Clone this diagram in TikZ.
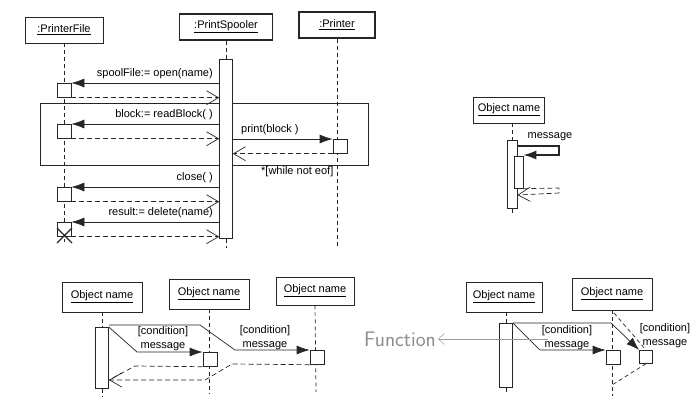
\documentclass[tikz,border=0pt]{standalone}
\usepackage{fontspec}
\setmainfont{Liberation Sans}
\usetikzlibrary{arrows.meta}

\tikzset{
  ink/.style={draw=black!85, line width=0.7pt},
  objbox/.style={ink, fill=white, minimum height=26pt, inner sep=2pt, font=\fontsize{11}{12}\selectfont},
  heavybox/.style={objbox, line width=1.8pt},
  actbar/.style={ink, fill=white, inner sep=0pt, minimum width=13pt},
  callbox/.style={ink, fill=white, inner sep=0pt, minimum size=14pt},
  lifeline/.style={draw=black!85, line width=0.7pt, dash pattern=on 4pt off 3pt},
  call/.style={ink, -{Latex[length=13pt,width=9pt]}},
  ret/.style={ink, dash pattern=on 5pt off 3pt, -{Straight Barb[length=12pt,width=14pt]}},
  msg/.style={inner sep=1pt, font=\fontsize{11}{14}\selectfont, align=center},
}

\begin{document}
\begin{tikzpicture}[x=1pt, y=-1pt]
    \useasboundingbox[fill=white] (0,0) rectangle (700,405);

    % print spooler
    \node[ink, minimum width=328pt, minimum height=62pt, anchor=north west] (loop) at (40,103) {};
    \node[objbox, minimum width=78pt] (pf) at (64,30) {\underline{:PrinterFile}};
    \node[heavybox, minimum width=93pt] (sp) at (226,27) {\underline{:PrintSpooler}};
    \node[heavybox, minimum width=76pt] (pr) at (337,25) {\underline{:Printer}};
    \node[actbar, minimum height=179pt, anchor=north] (spBar) at (226,59) {};

    \draw[lifeline] (pf.south) -- (64,242);
    \draw[lifeline] (sp.south) -- (spBar.north);
    \draw[lifeline] (spBar.south) -- (226,248);
    \draw[lifeline] (pr.south) -- (337,248);

    \node[callbox, anchor=north] (pfA) at (64,83) {};
    \node[callbox, anchor=north] (pfB) at (64,124) {};
    \node[callbox, anchor=north] (prA) at (340,139) {};
    \node[callbox, anchor=north] (pfC) at (64,187) {};
    \node[callbox, anchor=north] (pfD) at (64,222) {};

    \draw[call] (spBar.west |- pfA.north) -- (pfA.north east);
    \draw[ret] (pfA.south east) -- (spBar.west |- pfA.south);
    \draw[call] (spBar.west |- pfB.north) -- (pfB.north east);
    \draw[ret] (pfB.south east) -- (spBar.west |- pfB.south);
    \draw[call] (spBar.east |- prA.north) -- (prA.north west);
    \draw[ret] (prA.south west) -- (spBar.east |- prA.south);
    \draw[call] (spBar.west |- pfC.north) -- (pfC.north east);
    \draw[ret] (pfC.south east) -- (spBar.west |- pfC.south);
    \draw[call] (spBar.west |- pfD.north) -- (pfD.north east);
    \draw[ret] (pfD.south east) -- (spBar.west |- pfD.south);
    \draw[ink, line width=1.2pt] (57,228) -- (72,243) (57,243) -- (72,228);

    \node[msg, anchor=south east] (mOpen) at (214,80) {spoolFile:= open(name)};
    \node[msg, anchor=south east] (mRead) at (214,121) {block:= readBlock( )};
    \node[msg, anchor=south west] (mPrint) at (240,136) {print(block )};
    \node[msg, anchor=north west] (mEof) at (260,165) {*[while not eof]};
    \node[msg, anchor=south east] (mClose) at (214,184) {close( )};
    \node[msg, anchor=south east] (mDel) at (214,219) {result:= delete(name)};

    % nested activation
    \node[objbox, minimum width=71pt] (od) at (509,110) {\underline{Object name}};
    \node[actbar, minimum width=10pt, minimum height=68pt, anchor=north] (dBar) at (512,140) {};
    \node[actbar, minimum width=9pt, minimum height=32pt, anchor=north] (dIn) at (518.5,156) {};
    \draw[lifeline] (dBar.north |- od.south) -- (dBar.north);
    \draw[lifeline] (dBar.south) -- (512,214);
    \coordinate (dOut) at (517,146);
    \draw[call, line width=1.3pt] (dOut) -- (559,146) -- (559,155) -- (dIn.east |- 0,155);
    \draw[ret] (dIn.south east) -- (559,188) -- (559,193) -- (dBar.east |- 0,195);
    \node[msg] (mSelf) at (550,137) {message};

    % conditional messages
    \node[objbox, minimum width=80pt, minimum height=30pt] (oa) at (102,297) {\underline{Object name}};
    \node[objbox, minimum width=80pt, minimum height=30pt] (ob) at (209,294) {\underline{Object name}};
    \node[objbox, minimum width=78pt, minimum height=28pt] (oc) at (315,291) {\underline{Object name}};
    \node[actbar, minimum height=61pt, anchor=north] (aBar) at (102,327) {};
    \draw[lifeline] (oa.south) -- (aBar.north);
    \draw[lifeline] (aBar.south) -- (102,396);
    \draw[lifeline] (ob.south) -- (209,394);
    \draw[lifeline] (oc.south) -- (316,392);
    \node[callbox, anchor=north] (bA) at (210,352) {};
    \node[callbox, anchor=north] (bB) at (317,350) {};
    \coordinate (aRet) at (109,380);

    \draw[call] (aBar.north east) -- (137,352) -- (bA.north west);
    \draw[call] ([yshift=2pt]aBar.north east) -- (200,325) -- (235,350) -- (bB.north west);
    \draw[ink, dash pattern=on 5pt off 3pt] (bA.south west) -- (135,366) -- (aRet);
    \draw[ret] (bB.south west) -- (232,364) -- (205,380) -- (aRet);
    \node[msg] (cA) at (163,339) {[condition]\\message};
    \node[msg] (cB) at (265,338) {[condition]\\message};

    % branching lifeline
    \node[objbox, minimum width=76pt, minimum height=30pt] (oe) at (504,297) {\underline{Object name}};
    \node[objbox, minimum width=80pt, minimum height=32pt] (of) at (612,294) {\underline{Object name}};
    \node[actbar, minimum height=64pt, anchor=north] (eBar) at (506,323) {};
    \draw[lifeline] (eBar.north |- oe.south) -- (eBar.north);
    \draw[lifeline] (eBar.south) -- (506,394);
    \draw[lifeline] (of.south) -- (612,396);
    \node[callbox, anchor=north] (fA) at (613,350) {};
    \node[callbox, minimum size=13pt, anchor=north] (fB) at (646,350) {};
    \draw[lifeline] (614,313) -- (fB.north);
    \draw[lifeline] (fB.south) -- (612,385);

    \draw[call] (eBar.north east) -- (540,350) -- (fA.north west);
    \draw[call] (eBar.north east) -- (611,323) -- (fB.north west);
    \node[msg] (cC) at (567,338) {[condition]\\message};
    \node[msg] (cD) at (665,336) {[condition]\\message};

    % pencil note
    \node[text=black!45, inner sep=2pt, font=\sffamily\fontsize{21}{21}\selectfont] (fn) at (400,339) {Function};
    \coordinate (fnTail) at (548,339);
    \draw[draw=black!40, line width=0.5pt, -{Straight Barb[length=6pt,width=11pt]}] (fnTail) -- (fn.east);
\end{tikzpicture}
\end{document}
